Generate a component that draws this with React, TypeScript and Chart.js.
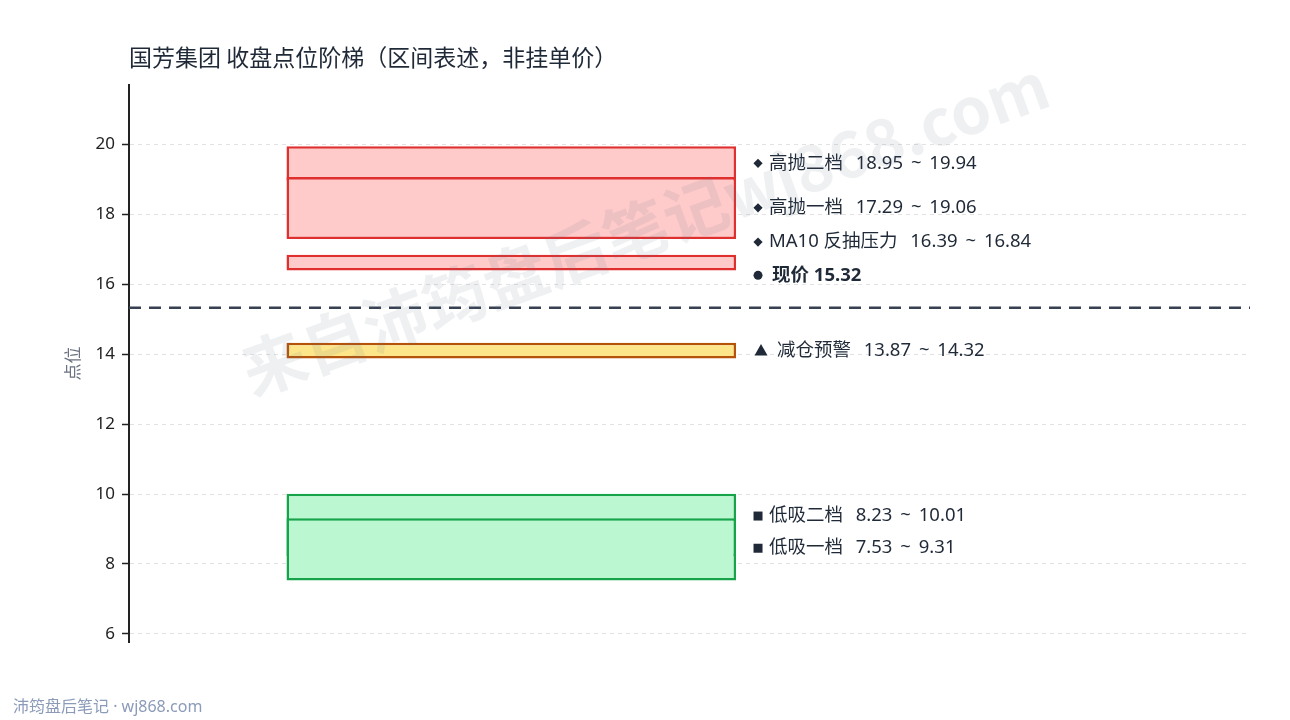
import { useEffect, useRef } from "react";
import { Chart, registerables } from "chart.js";

Chart.register(...registerables);

const TITLE = "国芳集团 收盘点位阶梯（区间表述，非挂单价）";
const FOOTER = "沛筠盘后笔记 · wj868.com";
const WATERMARK = "来自沛筠盘后笔记wj868.com";
const Y_TITLE = "点位";

// zones — earlier entries are drawn on top of later ones
const zoneNames = ["高抛一档", "高抛二档", "MA10 反抽压力", "减仓预警", "低吸一档", "低吸二档"];
const zoneLow = [17.29, 18.95, 16.39, 13.87, 7.53, 8.23];
const zoneHigh = [19.06, 19.94, 16.84, 14.32, 9.31, 10.01];
const zoneKind = ["sell", "sell", "sell", "warn", "buy", "buy"];
// where each zone's note sits on the value axis (spread apart so they don't collide)
const zoneLabelAt = [18.18, 19.45, 17.2, 14.1, 8.45, 9.37];

const currentPrice = 15.32;
const currentLabelAt = 16.25;

const yTicks = [6, 8, 10, 12, 14, 16, 18, 20];
const Y_MIN = 5.77;
const Y_MAX = 21.69;

const BOX_CENTER = 0.341;
const BOX_WIDTH = 0.401;

const FONT = "'Noto Sans', 'Noto Sans CJK SC', sans-serif";
const CJK = "'Noto Sans CJK SC', 'Noto Sans', sans-serif";
const INK = "#1f2937";
const SP = "\u2009 "; // slightly wider gap around the tilde

const KIND_STYLE: Record<string, { fill: string; border: string; marker: string }> = {
  sell: { fill: "#fecaca", border: "#e02f2f", marker: "diamond" },
  warn: { fill: "#fde68a", border: "#b45309", marker: "triangle" },
  buy: { fill: "#bbf7d0", border: "#16a34a", marker: "square" },
};

function drawMarker(ctx: CanvasRenderingContext2D, kind: string, cx: number, cy: number) {
  ctx.beginPath();
  if (kind === "diamond") {
    const r = 4.6;
    ctx.moveTo(cx, cy - r);
    ctx.lineTo(cx + r, cy);
    ctx.lineTo(cx, cy + r);
    ctx.lineTo(cx - r, cy);
    ctx.closePath();
  } else if (kind === "circle") {
    ctx.arc(cx, cy, 4.5, 0, Math.PI * 2);
  } else if (kind === "square") {
    ctx.rect(cx - 4.5, cy - 4.5, 9, 9);
  } else {
    ctx.moveTo(cx, cy - 6.5);
    ctx.lineTo(cx + 6.5, cy + 5);
    ctx.lineTo(cx - 6.5, cy + 5);
    ctx.closePath();
  }
  ctx.fill();
}

const notesPlugin = {
  id: "notes",
  afterDatasetsDraw(chart: Chart) {
    const { ctx } = chart;
    const x = chart.scales.x;
    const y = chart.scales.y;
    const right = x.getPixelForValue(BOX_CENTER + BOX_WIDTH / 2);
    ctx.save();
    ctx.fillStyle = INK;
    ctx.textBaseline = "middle";
    ctx.textAlign = "left";
    ctx.font = `18.5px ${FONT}`;
    zoneNames.forEach((name, i) => {
      const marker = KIND_STYLE[zoneKind[i]].marker;
      const py = y.getPixelForValue(zoneLabelAt[i]);
      const mx = right + (marker === "triangle" ? 25 : 22);
      const tx = right + (marker === "triangle" ? 41 : 33);
      drawMarker(ctx, marker, mx, py);
      ctx.fillText(`${name}  \u2009${zoneLow[i].toFixed(2)}${SP}~${SP}${zoneHigh[i].toFixed(2)}`, tx, py);
    });
    const cy = y.getPixelForValue(currentLabelAt);
    drawMarker(ctx, "circle", right + 22, cy);
    ctx.font = `bold 18.5px ${FONT}`;
    ctx.fillText(`现价 ${currentPrice.toFixed(2)}`, right + 36, cy);
    ctx.restore();
  },
  afterDraw(chart: Chart) {
    const { ctx } = chart;
    ctx.save();
    // title
    ctx.fillStyle = INK;
    ctx.textBaseline = "middle";
    ctx.textAlign = "left";
    ctx.font = `23px ${CJK}`;
    ctx.fillText(TITLE, 129, 57);
    // footer
    ctx.fillStyle = "#8b9bb8";
    ctx.font = `16px ${FONT}`;
    ctx.fillText(FOOTER, 13, 707);
    // watermark
    ctx.translate(645, 228);
    ctx.rotate((-20 * Math.PI) / 180);
    ctx.textAlign = "center";
    ctx.fillStyle = "rgba(100, 116, 139, 0.11)";
    ctx.font = `bold 64px ${CJK}`;
    ctx.fillText(WATERMARK, 0, 0);
    ctx.restore();
  },
};

export default function App() {
  const canvasRef = useRef<HTMLCanvasElement>(null);

  useEffect(() => {
    document.body.style.margin = "0";
    const canvas = canvasRef.current;
    if (!canvas) return;

    const PAD_LEFT = 58;

    const chart = new Chart(canvas, {
      type: "bar",
      data: {
        datasets: [
          ...zoneNames.map((name, i) => ({
            type: "bar" as const,
            label: name,
            data: [{ x: BOX_CENTER, y: [zoneLow[i], zoneHigh[i]] }],
            backgroundColor: KIND_STYLE[zoneKind[i]].fill,
            borderColor: KIND_STYLE[zoneKind[i]].border,
            borderWidth: 2.5,
            borderSkipped: false,
            grouped: false,
            categoryPercentage: 1,
            barPercentage: BOX_WIDTH,
          })),
          {
            type: "line" as const,
            label: "现价",
            data: [
              { x: 0, y: currentPrice },
              { x: 1, y: currentPrice },
            ],
            borderColor: "#374151",
            borderWidth: 2.5,
            borderDash: [12, 8],
            pointRadius: 0,
          },
        ],
      } as any,
      options: {
        responsive: true,
        maintainAspectRatio: false,
        animation: false,
        layout: { padding: { left: PAD_LEFT, top: 85, right: 40, bottom: 78 } },
        plugins: {
          legend: { display: false },
          tooltip: { enabled: false },
        },
        scales: {
          x: {
            type: "linear",
            min: 0,
            max: 1,
            offset: false,
            display: false,
            afterBuildTicks: (s: any) => {
              s.ticks = [{ value: 0 }, { value: 1 }];
            },
          },
          y: {
            type: "linear",
            min: Y_MIN,
            max: Y_MAX,
            afterBuildTicks: (s: any) => {
              s.ticks = yTicks.map((v) => ({ value: v }));
            },
            afterFit: (s: any) => {
              s.width = 129 - PAD_LEFT;
            },
            ticks: {
              color: "#222",
              padding: 7,
              font: { family: FONT, size: 17 },
              callback: (v: any) => String(v),
            },
            grid: {
              color: "#e2e2e2",
              tickColor: "#222",
              tickLength: 7,
              tickWidth: 1.5,
            },
            border: { display: true, color: "#222", width: 2, dash: [4, 4] },
            title: {
              display: true,
              text: Y_TITLE,
              color: "#6b7280",
              font: { family: CJK, size: 17 },
              padding: { top: 4, bottom: 4 },
            },
          },
        },
      },
      plugins: [notesPlugin],
    });

    return () => chart.destroy();
  }, []);

  return (
    <div style={{ width: 1290, height: 720, position: "relative", background: "#fff" }}>
      <canvas ref={canvasRef} />
    </div>
  );
}
